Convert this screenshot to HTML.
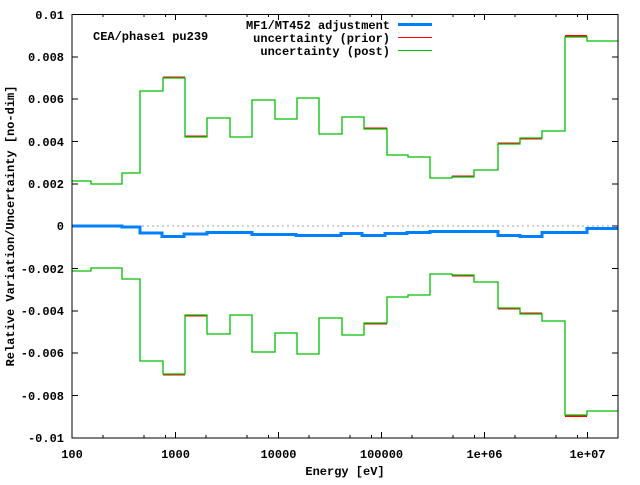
<!DOCTYPE html>
<html><head><style>
html,body{margin:0;padding:0;background:#fff;}
svg text{font-family:"Liberation Mono",monospace;font-weight:bold;font-size:12px;fill:#000;}
</style></head><body>
<svg width="640" height="480" xmlns="http://www.w3.org/2000/svg">
<rect width="640" height="480" fill="#fff"/>
<line x1="72" y1="226" x2="618" y2="226" stroke="#a0a0a0" stroke-dasharray="2,3" stroke-width="1"/>
<g id="ticks" stroke="#000" stroke-width="1">
<path d="M72,14.5h6M618,14.5h-6M72,57h6M618,57h-6M72,99h6M618,99h-6M72,141.5h6M618,141.5h-6M72,184h6M618,184h-6M72,226h6M618,226h-6M72,268.5h6M618,268.5h-6M72,311h6M618,311h-6M72,353h6M618,353h-6M72,395.5h6M618,395.5h-6M72,438h6M618,438h-6"/>
<path d="M175.5,438v-6M175.5,14v6M278.5,438v-6M278.5,14v6M381.5,438v-6M381.5,14v6M484.5,438v-6M484.5,14v6M587.5,438v-6M587.5,14v6"/>
<path d="M103,438v-3M144,438v-3M165.5,438v-3M206,438v-3M247,438v-3M268.5,438v-3M309,438v-3M350,438v-3M371.5,438v-3M412,438v-3M453,438v-3M474.5,438v-3M515,438v-3M556,438v-3M577.5,438v-3M618,438v-3
M103,14v3M144,14v3M165.5,14v3M206,14v3M247,14v3M268.5,14v3M309,14v3M350,14v3M371.5,14v3M412,14v3M453,14v3M474.5,14v3M515,14v3M556,14v3M577.5,14v3"/>
</g>
<!-- prior red -->
<g stroke="#ff0000" stroke-width="2" fill="none">
<path d="M163,77.5H185M185,136.5H207M364,128.5H387M452,176.5H474M498,143.5H520M520,138.5H542M565,36H587"/>
<path d="M163,374.5H185M185,315.5H207M364,323.5H387M452,275.5H474M498,308.5H520M520,313.5H542M565,416H587"/>
</g>
<g stroke="#00c000" stroke-width="1.3" fill="none">
<path d="M72,181H91V184H122V173H140V91H163V78H185V137H207V118H230V137H252V100H275V119H297V98H319V134H342V117H364V129H387V155H408V157H430V178H452V177H474V170H498V144H520V138H542V131H565V37H587V41H618"/>
<path d="M72,271H91V268H122V279H140V361H163V374H185V315H207V334H230V315H252V352H275V333H297V354H319V318H342V335H364V323H387V297H408V295H430V274H452V275H474V282H498V308H520V314H542V321H565V415H587V411H618"/>
</g>
<path d="M72,226H122V227H140V233H162V236.5H184V234H207V232.5H252V234.5H296V235.5H341V233.5H362V235.5H385V233.5H407V232.5H430V231.5H498V235.5H520V236.5H542V232.5H587V228.5H618" stroke="#0080ff" stroke-width="3" fill="none"/>
<rect x="72" y="14.5" width="546" height="423.5" fill="none" stroke="#000" stroke-width="1"/>
<g text-anchor="end">
<text x="64" y="19">0.01</text>
<text x="64" y="61">0.008</text>
<text x="64" y="103">0.006</text>
<text x="64" y="146">0.004</text>
<text x="64" y="188">0.002</text>
<text x="64" y="230">0</text>
<text x="64" y="273">-0.002</text>
<text x="64" y="315">-0.004</text>
<text x="64" y="357">-0.006</text>
<text x="64" y="400">-0.008</text>
<text x="64" y="442">-0.01</text>
</g>
<g text-anchor="middle">
<text x="72" y="458">100</text>
<text x="175.5" y="458">1000</text>
<text x="278.5" y="458">10000</text>
<text x="381.5" y="458">100000</text>
<text x="484.5" y="458">1e+06</text>
<text x="587.5" y="458">1e+07</text>
<text x="345" y="475">Energy [eV]</text>
<text transform="translate(14,226) rotate(-90)">Relative Variation/Uncertainty [no-dim]</text>
</g>
<text x="93" y="40">CEA/phase1 pu239</text>
<g text-anchor="end">
<text x="390" y="29">MF1/MT452 adjustment</text>
<text x="390" y="42">uncertainty (prior)</text>
<text x="390" y="55">uncertainty (post)</text>
</g>
<line x1="398" y1="24.5" x2="432" y2="24.5" stroke="#0080ff" stroke-width="3"/>
<line x1="398" y1="37.5" x2="432" y2="37.5" stroke="#ff0000" stroke-width="1"/>
<line x1="398" y1="50.5" x2="432" y2="50.5" stroke="#00c000" stroke-width="1"/>
</svg>
</body></html>
